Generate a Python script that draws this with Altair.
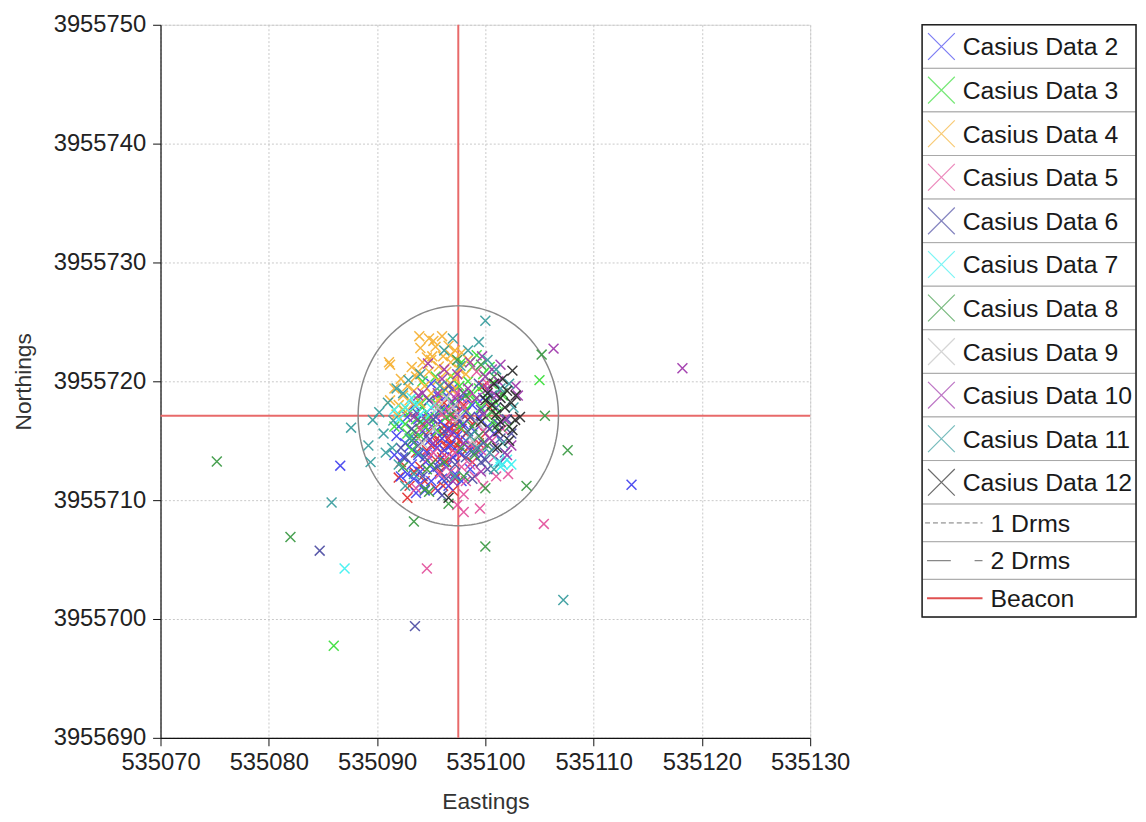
import altair as alt
import pandas as pd
import numpy as np

# ---------------- data (offsets from base easting / northing) ----------------
E0 = 535000.0
N0 = 3955700.0

SERIES = ["Casius Data 1", "Casius Data 2", "Casius Data 3", "Casius Data 4",
          "Casius Data 5", "Casius Data 6", "Casius Data 7", "Casius Data 8",
          "Casius Data 9", "Casius Data 10", "Casius Data 11", "Casius Data 12"]
COLORS = ["#e23232", "#4646f0", "#3ee03e", "#f6b43a", "#e4559f", "#5252a6",
          "#44f2f2", "#3f9c48", "#c4c4c4", "#a23cae", "#3c9fa0", "#2e2e2e"]

S1 = [(96.0,15.6),(96.6,15.2),(97.2,15.8),(96.4,14.6),(97.0,14.2),(95.6,14.8),(97.6,15.0),
      (96.2,16.2),(97.8,16.0),(95.8,15.0),(96.8,14.8),(97.4,14.6),(96.0,14.0),(95.2,15.4),
      (98.2,15.6),(96.6,16.6),(97.0,13.6),(95.4,13.4),(94.6,14.2),(98.6,14.6),(93.4,12.4),
      (92.2,13.2),(92.8,10.2),(92.0,11.9),(96.1,11.2),(95.4,11.0),(97.0,10.8),(94.0,12.8),
      (99.0,16.6),(97.2,17.4),(94.2,16.4),(93.6,14.0),(100.4,17.8),(99.8,19.6),
      (95.0,14.6),(96.8,16.0),(97.6,16.6),(95.6,16.4),(96.4,13.2),(97.8,13.8),(98.4,16.8),
      (94.8,15.8),(95.8,12.4),(97.2,11.8),(98.8,13.2),(94.4,11.6),(93.0,11.2),(99.4,14.8),
      (96.2,18.2),(98.0,18.0),(93.8,15.2),(100.0,15.6),(97.0,16.4),(96.0,13.6)]
S2 = [(93.0,14.5),(93.8,13.8),(94.5,13.2),(95.2,12.6),(94.0,12.4),(93.2,13.0),(92.4,13.6),
      (95.8,13.4),(96.4,12.8),(97.0,13.6),(95.5,14.4),(94.8,15.0),(96.0,15.2),(96.8,14.6),
      (97.6,14.0),(94.2,15.8),(95.0,16.2),(95.9,16.6),(96.6,16.0),(93.4,15.2),(92.6,14.8),
      (91.8,15.4),(98.2,15.0),(98.6,14.2),(97.2,12.2),(96.0,11.8),(95.0,11.6),(94.0,11.4),
      (93.4,11.8),(92.8,12.2),(98.0,16.4),(97.4,17.2),(96.2,17.6),(95.4,17.0),(94.6,17.4),
      (93.8,16.8),(99.0,15.8),(99.4,17.0),(98.8,18.0),(97.8,18.6),(96.8,18.2),(95.6,18.8),
      (100.2,16.2),(94.4,10.8),(96.6,11.2),(86.6,12.9),(113.5,11.3),
      (92.2,12.0),(91.6,13.8),(92.0,16.2),(93.6,10.6),(95.6,10.8),(97.8,11.6),(98.6,12.6),
      (99.6,13.8),(100.8,15.6),(99.8,18.6),(97.0,19.4),(95.0,19.8),(93.4,18.0),(92.8,17.0),
      (94.6,14.0),(96.2,14.2),(97.4,15.4),(95.4,15.8),(98.2,17.4),(96.4,18.8)]
S3 = [(93.0,17.4),(93.6,16.8),(94.2,17.8),(94.8,17.0),(95.4,18.2),(93.8,18.4),(92.6,16.4),
      (94.4,16.2),(95.0,16.6),(92.8,15.6),(93.2,14.2),(94.6,18.6),(96.0,19.0),(99.4,19.4),
      (100.2,18.6),(100.6,19.8),(99.8,20.6),(101.0,18.2),(99.0,18.4),(98.4,20.0),(101.2,17.4),
      (100.0,17.0),(97.6,19.6),(98.8,21.2),(96.8,20.4),(95.6,15.8),(97.0,18.2),(98.2,17.6),
      (105.0,20.1),(86.0,-2.25),
      (93.4,15.8),(94.0,15.4),(92.4,17.6),(91.6,16.2),(95.8,17.4),(96.4,17.0),(97.6,16.2),
      (99.6,17.8),(100.8,16.6),(101.6,18.8),(100.4,21.2),(99.2,22.2),(97.8,21.6),(95.4,20.4),
      (94.2,20.0),(98.6,19.0)]
S4 = [(93.9,23.8),(91.1,21.6),(91.2,21.4),(95.4,22.9),(96.6,23.0),(96.1,22.1),(95.1,22.1),
      (95.7,21.25),(94.8,20.8),(96.4,20.8),(95.6,20.1),(96.8,21.6),(97.2,22.6),(94.2,21.6),
      (93.6,20.4),(92.8,19.6),(93.4,19.2),(92.4,18.8),(94.4,19.6),(95.0,19.0),(96.2,19.4),
      (97.2,20.2),(93.0,18.4),(92.0,18.0),(92.8,17.6),(94.0,18.2),(96.8,19.8),(91.8,17.2),
      (95.6,18.4),(97.6,21.0),(98.2,20.6),(95.2,23.4),(96.8,22.2),(94.6,22.0),
      (93.2,21.2),(94.0,22.8),(92.2,20.2),(91.6,19.4),(95.0,21.8),(97.8,22.4),(98.4,21.8),
      (96.0,23.8),(94.8,23.6),(97.0,19.2),(91.2,18.4),(93.8,20.8)]
S5 = [(94.6,4.25),(105.4,8.0),(99.5,9.3),(102.1,12.2),(98.0,10.5),(98.0,9.0),(96.8,12.4),
      (98.6,13.0),(99.6,14.2),(97.0,16.8),(98.0,17.8),(96.0,17.2),(95.2,14.0),(99.0,12.0),
      (100.6,15.0),(101.6,16.0),(96.4,13.6),(97.8,12.8),(98.2,11.6),(95.8,12.2),(94.8,13.6),
      (97.4,19.0),(99.2,20.8),(93.6,11.0),
      (98.8,14.6),(99.8,15.8),(100.8,13.6),(97.2,14.0),(96.6,17.6),(98.4,18.6),(95.4,18.0),
      (94.0,16.0),(99.8,11.2),(97.4,9.6),(101.0,12.0),(100.2,19.8)]
S6 = [(84.7,5.75),(93.5,-0.6),(98.4,15.8),(99.2,16.6),(100.4,16.0),(99.6,17.6),(101.4,15.2),
      (100.8,14.4),(99.8,14.8),(98.6,17.0),(97.6,16.6),(96.2,15.8),(95.2,16.8),(94.6,15.4),
      (93.8,14.6),(94.4,13.6),(95.6,12.8),(97.2,13.0),(98.2,13.6),(99.6,13.2),(100.2,12.6),
      (101.8,14.0),(102.4,15.6),(101.0,17.8),(98.0,19.0),(96.6,19.6),(94.8,18.4),(93.2,16.0),
      (92.2,14.4),(96.0,10.4),
      (99.0,14.0),(100.0,13.4),(101.2,16.4),(102.0,16.8),(100.6,18.8),(99.4,19.8),(97.2,18.0),
      (95.8,17.6),(93.6,17.4),(92.6,13.6),(94.2,12.0),(96.4,11.8),(98.8,11.8),(101.4,13.2)]
S7 = [(87.0,4.25),(101.6,13.0),(101.2,13.2),(102.0,13.4),(101.4,12.8),(92.6,17.8),(93.2,18.6),
      (94.0,17.2),(95.0,17.8),(92.0,16.8),(91.6,17.6),(93.6,18.0),(94.4,16.8),(102.4,13.0)]
S8 = [(75.2,13.25),(82.0,6.9),(93.4,8.2),(96.6,9.7),(94.8,10.7),(94.4,10.9),(105.2,22.25),
      (105.5,17.1),(107.6,14.2),(103.8,11.2),(100.0,11.0),(100.0,6.1),(99.4,15.4),(98.8,16.2),
      (100.6,17.4),(97.8,14.4),(96.2,13.2),(95.0,13.0),(94.0,16.6),(101.6,19.0),(100.8,20.4),
      (99.0,13.8),(98.0,12.0),
      (101.0,16.2),(102.2,16.2),(100.2,14.6),(98.2,18.8),(96.8,17.2),(93.2,15.0),(92.4,12.8),
      (94.6,12.6),(99.6,21.4),(97.4,21.8)]
S9 = [(95.6,17.8),(97.6,17.0),(98.8,15.0),(96.4,18.6),(94.2,14.8),(97.0,17.8),(99.4,16.4),
      (95.2,16.0)]
S10 = [(106.3,22.75),(118.2,21.1),(94.7,21.5),(99.7,22.1),(100.6,21.0),(101.2,20.0),(102.8,19.6),
       (103.0,18.8),(101.8,16.8),(100.4,15.2),(99.2,18.6),(98.4,19.4),(97.4,20.6),(96.0,20.2),
       (94.2,19.0),(93.4,17.0),(95.2,14.8),(96.8,15.6),(98.0,14.8),(99.6,12.4),(97.0,11.6),
       (102.4,14.6),(102.0,13.8),(100.2,19.4),
       (98.6,21.6),(97.2,18.6),(95.6,19.0),(93.8,18.8),(99.8,17.2),(101.0,18.8),(101.4,21.4),
       (100.0,20.4),(96.2,21.0),(94.6,16.6)]
S11 = [(100.0,25.1),(99.4,23.3),(85.8,9.8),(107.2,1.6),(87.6,16.1),(89.2,14.6),(89.4,13.2),
       (91.0,18.2),(89.6,16.75),(91.5,16.7),(92.9,20.1),(97.7,21.3),(90.6,15.6),(91.4,14.4),
       (92.0,13.0),(90.8,14.0),(93.0,15.2),(100.4,14.0),(101.6,14.8),(102.6,17.8),(101.4,19.4),
       (100.2,21.8),(98.6,15.4),(97.2,12.0),(95.8,19.6),(94.0,20.6),(92.6,11.2),
       (90.2,17.4),(91.8,19.4),(92.4,19.0),(93.8,14.0),(99.2,14.4),(100.8,12.6),(102.2,19.8),
       (101.0,21.0),(98.4,22.6),(97.0,23.6),(96.2,22.6),(93.4,12.2)]
S12 = [(102.75,16.75),(102.5,20.9),(102.5,15.9),(101.4,18.6),(102.0,19.2),(101.0,17.2),
       (100.6,18.0),(101.8,17.8),(100.2,19.0),(99.6,16.6),(102.4,18.2),(101.2,15.8),(96.6,10.2),
       (101.1,14.4),(101.6,20.2),(102.8,18.8),(103.2,17.0),(100.8,19.8),(101.4,16.6),
       (102.2,15.0),(100.0,18.4)]
POINTS = [S1, S2, S3, S4, S5, S6, S7, S8, S9, S10, S11, S12]

BEACON_E = 535097.5
BEACON_N = 3955717.1
DRMS2_RADIUS = 9.25

X_TICKS = [535070, 535080, 535090, 535100, 535110, 535120, 535130]
Y_TICKS = [3955690, 3955700, 3955710, 3955720, 3955730, 3955740, 3955750]

LEGEND_LABELS = ["Casius Data 2", "Casius Data 3", "Casius Data 4", "Casius Data 5",
                 "Casius Data 6", "Casius Data 7", "Casius Data 8", "Casius Data 9",
                 "Casius Data 10", "Casius Data 11", "Casius Data 12",
                 "1 Drms", "2 Drms", "Beacon"]

# ---------------- tables ----------------
rows = []
for name, pts in zip(SERIES, POINTS):
    for de, dn in pts:
        rows.append({"series": name, "E": E0 + de, "N": N0 + dn})
pts_df = pd.DataFrame(rows)

ang = np.linspace(0, 2 * np.pi, 241)
circ_df = pd.DataFrame({"E": BEACON_E + DRMS2_RADIUS * np.cos(ang),
                        "N": BEACON_N + DRMS2_RADIUS * np.sin(ang),
                        "o": np.arange(len(ang))})
beacon_df = pd.DataFrame({"E": [BEACON_E], "N": [BEACON_N]})

FONT = "Liberation Sans"
XPATH = "M-1,-1L1,1M-1,1L1,-1"

xscale = alt.Scale(domain=[X_TICKS[0], X_TICKS[-1]], nice=False, zero=False)
yscale = alt.Scale(domain=[Y_TICKS[0], Y_TICKS[-1]], nice=False, zero=False)
common = dict(grid=True, gridDash=[2, 2], gridColor="#c8c8c8", gridWidth=1,
              tickSize=8, tickColor="#111", tickWidth=1, domainColor="#111", domainWidth=1.2,
              labelFont=FONT, labelFontSize=24, labelColor="#222",
              titleFont=FONT, titleFontSize=23, titleFontWeight="normal", titleColor="#333",
              format="d", labelFlush=False)
xaxis = alt.Axis(title="Eastings", values=X_TICKS, titlePadding=16, labelPadding=5, **common)
yaxis = alt.Axis(title="Northings", values=Y_TICKS, titlePadding=18, labelPadding=7, **common)

X = alt.X("E:Q", scale=xscale, axis=xaxis)
Y = alt.Y("N:Q", scale=yscale, axis=yaxis)

vrule = alt.Chart(beacon_df).mark_rule(color="#e86a6a", strokeWidth=2).encode(x=X)
hrule = alt.Chart(beacon_df).mark_rule(color="#e86a6a", strokeWidth=2).encode(y=Y)
circle = alt.Chart(circ_df).mark_line(color="#8a8a8a", strokeWidth=1.5).encode(
    x=X, y=Y, order="o:Q")
points = alt.Chart(pts_df).mark_point(shape=XPATH, filled=False, size=100, strokeWidth=1.5,
                                      opacity=0.95).encode(
    x=X, y=Y,
    color=alt.Color("series:N", scale=alt.Scale(domain=SERIES, range=COLORS), legend=None))

main = alt.layer(vrule, hrule, circle, points).properties(width=656, height=720)

# ---------------- custom legend ----------------
kinds = ["x"] * 11 + ["d1", "d2", "beacon"]
leg_colors = COLORS[1:] + ["#777777", "#888888", "#e05050"]
ROW_X, ROW_L = 44, 38
heights = [ROW_X if k == "x" else ROW_L for k in kinds]
bottoms = np.cumsum(heights)
tops = bottoms - np.array(heights)
LEG_W = 216
LEG_H = int(bottoms[-1])
leg_df = pd.DataFrame({"label": LEGEND_LABELS, "kind": kinds, "color": leg_colors,
                       "top": tops, "bottom": bottoms, "mid": (tops + bottoms) / 2})

ys = alt.Scale(domain=[0, LEG_H], range=[0, LEG_H], nice=False, zero=False)
LY = alt.Y("top:Q", scale=ys, axis=None)
MY = alt.Y("mid:Q", scale=ys, axis=None)
base = alt.Chart(leg_df)

cells = base.mark_rect(fill="white", stroke="#a8a8a8", strokeWidth=1).encode(
    x=alt.value(0), x2=alt.value(LEG_W), y=LY, y2="bottom:Q")
syms = base.transform_filter(alt.datum.kind == "x").mark_point(
    shape=XPATH, filled=False, size=729, strokeWidth=1.2).encode(
    x=alt.value(19.5), y=MY, color=alt.Color("color:N", scale=None))
txt_x = base.transform_filter(alt.datum.kind == "x").mark_text(
    align="left", baseline="middle", font=FONT, fontSize=25, color="#1a1a1a", dy=1).encode(
    x=alt.value(41), y=MY, text="label:N")
txt_l = base.transform_filter(alt.datum.kind != "x").mark_text(
    align="left", baseline="middle", font=FONT, fontSize=25, color="#1a1a1a", dy=1).encode(
    x=alt.value(69), y=MY, text="label:N")
d1 = base.transform_filter(alt.datum.kind == "d1").mark_rule(
    color="#777777", strokeWidth=1, strokeDash=[5, 3]).encode(
    x=alt.value(3), x2=alt.value(61), y=MY)
d2 = base.transform_filter(alt.datum.kind == "d2").mark_rule(
    color="#888888", strokeWidth=1.2, strokeDash=[24, 24]).encode(
    x=alt.value(5), x2=alt.value(61), y=MY)
bc = base.transform_filter(alt.datum.kind == "beacon").mark_rule(
    color="#e05050", strokeWidth=2).encode(
    x=alt.value(5), x2=alt.value(61), y=MY)
border = alt.Chart(pd.DataFrame({"a": [0]})).mark_rect(
    fillOpacity=0, stroke="#222", strokeWidth=1.5).encode(
    x=alt.value(0), x2=alt.value(LEG_W), y=alt.value(0), y2=alt.value(LEG_H))

legend = alt.layer(cells, syms, txt_x, txt_l, d1, d2, bc, border).properties(
    width=LEG_W, height=LEG_H)

chart = alt.hconcat(main, legend, spacing=70).configure_view(stroke=None).configure(
    background="white", padding={"left": 4, "top": 0, "right": 0, "bottom": 0})

chart.save("out.html", embed_options={"renderer": "svg", "actions": False})
